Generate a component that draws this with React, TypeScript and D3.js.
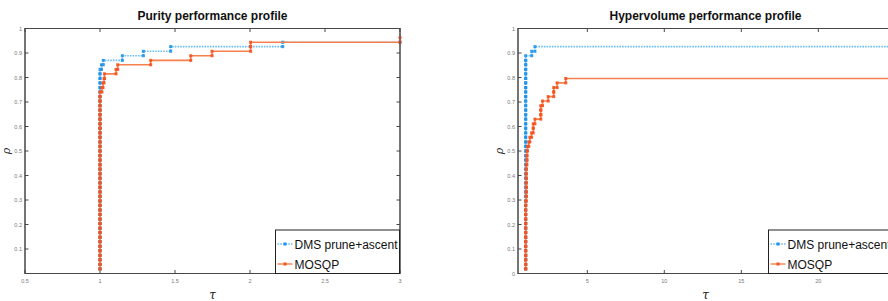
import React, { useEffect, useRef } from "react";
import { select, scaleLinear, line } from "d3";

// rho levels (one step per problem)
const purityDmsTau = [
  1, 1, 1, 1, 1, 1, 1, 1, 1, 1, 1, 1, 1, 1, 1, 1, 1, 1, 1, 1, 1, 1, 1, 1, 1, 1, 1, 1, 1, 1,
  1, 1, 1, 1, 1, 1, 1, 1, 1, 1, 1, 1, 1, 1, 1, 1.01, 1.022, 1.149, 1.289, 1.471, 2.218,
];
const purityDmsRho = [
  0.019, 0.037, 0.056, 0.074, 0.093, 0.111, 0.13, 0.148, 0.167, 0.185, 0.204, 0.222, 0.241,
  0.259, 0.278, 0.296, 0.315, 0.333, 0.352, 0.37, 0.389, 0.407, 0.426, 0.444, 0.463, 0.481,
  0.5, 0.519, 0.537, 0.556, 0.574, 0.593, 0.611, 0.63, 0.648, 0.667, 0.685, 0.704, 0.722,
  0.741, 0.759, 0.778, 0.796, 0.815, 0.833, 0.852, 0.87, 0.889, 0.907, 0.926, 0.944,
];
const purityMosqpTau = [
  1, 1, 1, 1, 1, 1, 1, 1, 1, 1, 1, 1, 1, 1, 1, 1, 1, 1, 1, 1, 1, 1, 1, 1, 1, 1, 1, 1, 1, 1,
  1, 1, 1, 1, 1, 1, 1, 1, 1, 1, 1.013, 1.02, 1.027, 1.03, 1.107, 1.118, 1.338, 1.605, 1.747,
  2.004, 2.004, 3,
];
const purityMosqpRho = [
  0.019, 0.037, 0.056, 0.074, 0.093, 0.111, 0.13, 0.148, 0.167, 0.185, 0.204, 0.222, 0.241,
  0.259, 0.278, 0.296, 0.315, 0.333, 0.352, 0.37, 0.389, 0.407, 0.426, 0.444, 0.463, 0.481,
  0.5, 0.519, 0.537, 0.556, 0.574, 0.593, 0.611, 0.63, 0.648, 0.667, 0.685, 0.704, 0.722,
  0.741, 0.759, 0.778, 0.796, 0.815, 0.833, 0.852, 0.87, 0.889, 0.907, 0.926, 0.944, 0.963,
];

const hyperDmsTau = [
  1, 1, 1, 1, 1, 1, 1, 1, 1, 1, 1, 1, 1, 1, 1, 1, 1, 1, 1, 1, 1, 1, 1, 1, 1, 1, 1, 1, 1, 1,
  1, 1, 1, 1, 1, 1, 1, 1, 1, 1, 1, 1, 1, 1, 1, 1, 1, 1, 1.39, 1.6,
];
const hyperDmsRho = [
  0.019, 0.037, 0.056, 0.074, 0.093, 0.111, 0.13, 0.148, 0.167, 0.185, 0.204, 0.222, 0.241,
  0.259, 0.278, 0.296, 0.315, 0.333, 0.352, 0.37, 0.389, 0.407, 0.426, 0.444, 0.463, 0.481,
  0.5, 0.519, 0.537, 0.556, 0.574, 0.593, 0.611, 0.63, 0.648, 0.667, 0.685, 0.704, 0.722,
  0.741, 0.759, 0.778, 0.796, 0.815, 0.833, 0.852, 0.87, 0.889, 0.907, 0.926,
];
const hyperMosqpTau = [
  1, 1, 1, 1, 1, 1, 1, 1, 1, 1, 1, 1, 1, 1, 1, 1, 1.04, 1.04, 1.04, 1.04, 1.04, 1.04, 1.04,
  1.04, 1.08, 1.08, 1.08, 1.12, 1.2, 1.27, 1.38, 1.49, 1.49, 1.6, 1.98, 1.98, 1.98, 2.09, 2.46,
  2.82, 2.82, 3.04, 3.6,
];
const hyperMosqpRho = [
  0.019, 0.037, 0.056, 0.074, 0.093, 0.111, 0.13, 0.148, 0.167, 0.185, 0.204, 0.222, 0.241,
  0.259, 0.278, 0.296, 0.315, 0.333, 0.352, 0.37, 0.389, 0.407, 0.426, 0.444, 0.463, 0.481,
  0.5, 0.519, 0.537, 0.556, 0.574, 0.593, 0.611, 0.63, 0.648, 0.667, 0.685, 0.704, 0.722,
  0.741, 0.759, 0.778, 0.796,
];

const legendLabels = ["DMS prune+ascent", "MOSQP"];
const purityXTicks = [0.5, 1, 1.5, 2, 2.5, 3];
const hyperXTicks = [5, 10, 15, 20];
const purityYTicks = [0.1, 0.2, 0.3, 0.4, 0.5, 0.6, 0.7, 0.8, 0.9, 1];
const hyperYTicks = [0, 0.1, 0.2, 0.3, 0.4, 0.5, 0.6, 0.7, 0.8, 0.9, 1];

const canvasWidth = 888;
const canvasHeight = 301;
const top = 28.5;
const bottom = 273.5;

const blueLine = "#6cbdf5";
const blueMark = "#1f93ec";
const orangeLine = "#f7804f";
const orangeMark = "#f4531f";

// staircase vertices: horizontal first, then vertical
function stairs(tau, rho, xEnd) {
  const pts = [[tau[0], rho[0]]];
  for (let i = 1; i < tau.length; i++) {
    pts.push([tau[i], rho[i - 1]]);
    pts.push([tau[i], rho[i]]);
  }
  if (xEnd > tau[tau.length - 1]) pts.push([xEnd, rho[rho.length - 1]]);
  return pts;
}

function drawProfile(svg, opts) {
  const { left, right, domain, xTicks, yTicks, title, dms, mosqp } = opts;
  const x = scaleLinear().domain(domain).range([left, right]);
  const y = scaleLinear().domain([0, 1]).range([bottom, top]);
  const g = svg.append("g");
  const axisColor = "#474747";
  const font = "'Liberation Sans', Arial, sans-serif";

  // box
  g.append("rect")
    .attr("x", left)
    .attr("y", top)
    .attr("width", right - left)
    .attr("height", bottom - top)
    .attr("fill", "white")
    .attr("stroke", axisColor)
    .attr("stroke-width", 1);

  // x ticks (bottom + top, inward)
  xTicks.forEach((t) => {
    const px = x(t);
    g.append("line").attr("x1", px).attr("x2", px).attr("y1", bottom).attr("y2", bottom - 3.5)
      .attr("stroke", axisColor);
    g.append("line").attr("x1", px).attr("x2", px).attr("y1", top).attr("y2", top + 3.5)
      .attr("stroke", axisColor);
    g.append("text").attr("x", px).attr("y", 283).attr("text-anchor", "middle")
      .attr("font-family", font).attr("font-size", 5.5).attr("fill", "#777")
      .text(String(t));
  });

  yTicks.forEach((t) => {
    const py = y(t);
    g.append("line").attr("x1", left).attr("x2", left + 3.5).attr("y1", py).attr("y2", py)
      .attr("stroke", axisColor);
    g.append("line").attr("x1", right).attr("x2", right - 3.5).attr("y1", py).attr("y2", py)
      .attr("stroke", axisColor);
    g.append("text").attr("x", left - 3).attr("y", py + 2).attr("text-anchor", "end")
      .attr("font-family", font).attr("font-size", 5.5).attr("fill", "#777")
      .text(String(t));
  });

  const path = line()
    .x((d) => x(d[0]))
    .y((d) => y(d[1]));

  const series = [
    { pts: stairs(dms.tau, dms.rho, domain[1]), stroke: blueLine, mark: blueMark, dash: "1.6,1.1" },
    { pts: stairs(mosqp.tau, mosqp.rho, domain[1]), stroke: orangeLine, mark: orangeMark, dash: null },
  ];

  series.forEach((s) => {
    g.append("path")
      .attr("d", path(s.pts))
      .attr("fill", "none")
      .attr("stroke", s.stroke)
      .attr("stroke-width", 1.6)
      .attr("stroke-dasharray", s.dash);
    g.selectAll(null)
      .data(s.pts)
      .enter()
      .append("rect")
      .attr("x", (d) => x(d[0]) - 1.5)
      .attr("y", (d) => y(d[1]) - 1.5)
      .attr("width", 3)
      .attr("height", 3)
      .attr("fill", s.mark)
      .attr("opacity", 0.9);
  });

  // frame on top again so the edges stay crisp
  g.append("rect")
    .attr("x", left)
    .attr("y", top)
    .attr("width", right - left)
    .attr("height", bottom - top)
    .attr("fill", "none")
    .attr("stroke", axisColor)
    .attr("stroke-width", 1);

  const cx = (left + right) / 2;
  g.append("text").attr("x", cx).attr("y", 20).attr("text-anchor", "middle")
    .attr("font-family", font).attr("font-weight", "bold").attr("font-size", 12)
    .attr("fill", "#111").text(title);

  g.append("text").attr("x", cx).attr("y", 299).attr("text-anchor", "middle")
    .attr("font-family", "'DejaVu Serif', serif").attr("font-style", "italic")
    .attr("font-size", 12).attr("fill", "#222").text("τ");

  g.append("text")
    .attr("transform", `translate(${left - 15}, 151) rotate(-90)`)
    .attr("text-anchor", "middle")
    .attr("font-family", "'DejaVu Serif', serif").attr("font-style", "italic")
    .attr("font-size", 11).attr("fill", "#222").text("ρ");

  // legend
  const bx = right - 124.5;
  const by = 230;
  g.append("rect").attr("x", bx).attr("y", by).attr("width", 124).attr("height", bottom - by)
    .attr("fill", "white").attr("stroke", "#222").attr("stroke-width", 1);
  legendLabels.forEach((lab, i) => {
    const ly = 244 + i * 20;
    const s = series[i];
    g.append("line").attr("x1", bx + 2).attr("x2", bx + 17).attr("y1", ly).attr("y2", ly)
      .attr("stroke", s.stroke).attr("stroke-width", 1.4).attr("stroke-dasharray", s.dash);
    g.append("rect").attr("x", bx + 8).attr("y", ly - 1.5).attr("width", 3).attr("height", 3)
      .attr("fill", s.mark);
    g.append("text").attr("x", bx + 19).attr("y", ly + 4.5)
      .attr("font-family", font).attr("font-size", 12).attr("fill", "#111").text(lab);
  });
}

function App() {
  const svgRef = useRef(null);

  useEffect(() => {
    const svg = select(svgRef.current);
    svg.selectAll("*").remove();
    drawProfile(svg, {
      left: 25,
      right: 400,
      domain: [0.5, 3],
      xTicks: purityXTicks,
      yTicks: purityYTicks,
      title: "Purity performance profile",
      dms: { tau: purityDmsTau, rho: purityDmsRho },
      mosqp: { tau: purityMosqpTau, rho: purityMosqpRho },
    });
    drawProfile(svg, {
      left: 518,
      right: 893,
      domain: [0.5, 24.85],
      xTicks: hyperXTicks,
      yTicks: hyperYTicks,
      title: "Hypervolume performance profile",
      dms: { tau: hyperDmsTau, rho: hyperDmsRho },
      mosqp: { tau: hyperMosqpTau, rho: hyperMosqpRho },
    });
  }, []);

  return (
    <svg
      ref={svgRef}
      width={canvasWidth}
      height={canvasHeight}
      style={{ position: "absolute", left: 0, top: 0, background: "white" }}
    />
  );
}

export default App;
